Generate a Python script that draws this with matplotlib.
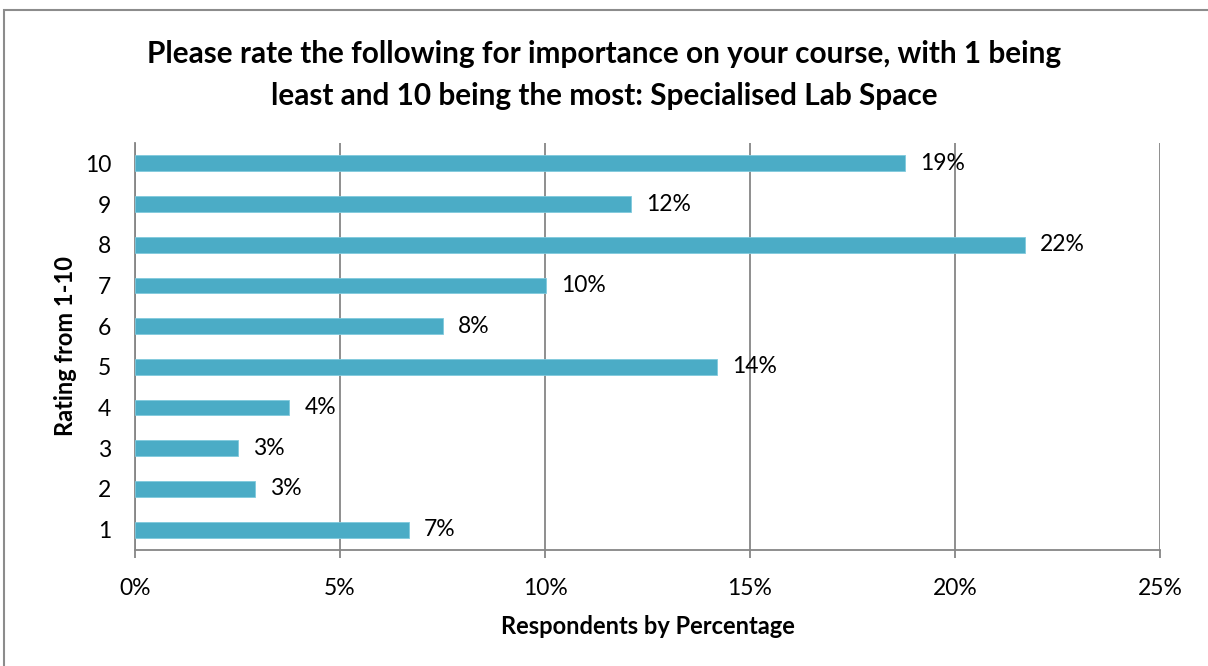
import matplotlib
matplotlib.use("Agg")
import matplotlib.pyplot as plt
from matplotlib.patches import Rectangle
from matplotlib.ticker import FuncFormatter, MultipleLocator

ratings = ["1", "2", "3", "4", "5", "6", "7", "8", "9", "10"]
percentages = [6.68, 2.93, 2.51, 3.76, 14.2, 7.51, 10.02, 21.7, 12.1, 18.78]
value_labels = ["7%", "3%", "3%", "4%", "14%", "8%", "10%", "22%", "12%", "19%"]

title = ("Please rate the following for importance on your course, with 1 being\n"
         "least and 10 being the most: Specialised Lab Space")
x_title = "Respondents by Percentage"
y_title = "Rating from 1-10"

bar_color = "#4BACC6"
grid_color = "#868686"
font = "Lato"

fig = plt.figure(figsize=(12.08, 6.66), dpi=100)
fig.patch.set_facecolor("white")

# chart-area frame
fig.patches.append(Rectangle((4 / 1208, -0.05), 1.1, 1 - 10 / 666 + 0.05,
                             transform=fig.transFigure, fill=False,
                             edgecolor="#8c8c8c", linewidth=1.5, zorder=0))

ax = fig.add_axes([135 / 1208, 1 - 550 / 666, 1025 / 1208, 407 / 666])
positions = list(range(1, len(ratings) + 1))
ax.barh(positions, percentages, height=0.39, color=bar_color,
        edgecolor="#7fcadd", linewidth=0.6, zorder=3)

for y, v, lab in zip(positions, percentages, value_labels):
    ax.text(v + 0.37, y, lab, va="center", ha="left", fontsize=16.5,
            family=font, color="black", zorder=4)

ax.set_xlim(0, 25)
ax.set_ylim(0.5, 10.5)
ax.xaxis.set_major_locator(MultipleLocator(5))
ax.xaxis.set_major_formatter(FuncFormatter(lambda v, p: f"{v:.0f}%"))
ax.set_yticks(positions)
ax.set_yticklabels(ratings)

ax.grid(axis="x", color=grid_color, linewidth=1.3, zorder=0)
ax.set_axisbelow(True)
for side in ["top", "right"]:
    ax.spines[side].set_visible(False)
for side in ["left", "bottom"]:
    ax.spines[side].set_color(grid_color)
    ax.spines[side].set_linewidth(1.3)

ax.tick_params(axis="x", length=6, width=1.3, color=grid_color, pad=14,
               labelsize=16.5)
ax.tick_params(axis="y", length=0, pad=17, labelsize=16.5)
for lbl in ax.get_xticklabels() + ax.get_yticklabels():
    lbl.set_family(font)

ax.set_xlabel(x_title, fontsize=17, fontweight="bold", family=font, labelpad=12)
ax.set_ylabel(y_title, fontsize=17, fontweight="bold", family=font, labelpad=6)

fig.text(0.5, 1 - 75 / 666, title, ha="center", va="center", fontsize=21.4,
         fontweight="bold", family=font, linespacing=1.62)

fig.savefig("out.png", dpi=100, facecolor="white")
